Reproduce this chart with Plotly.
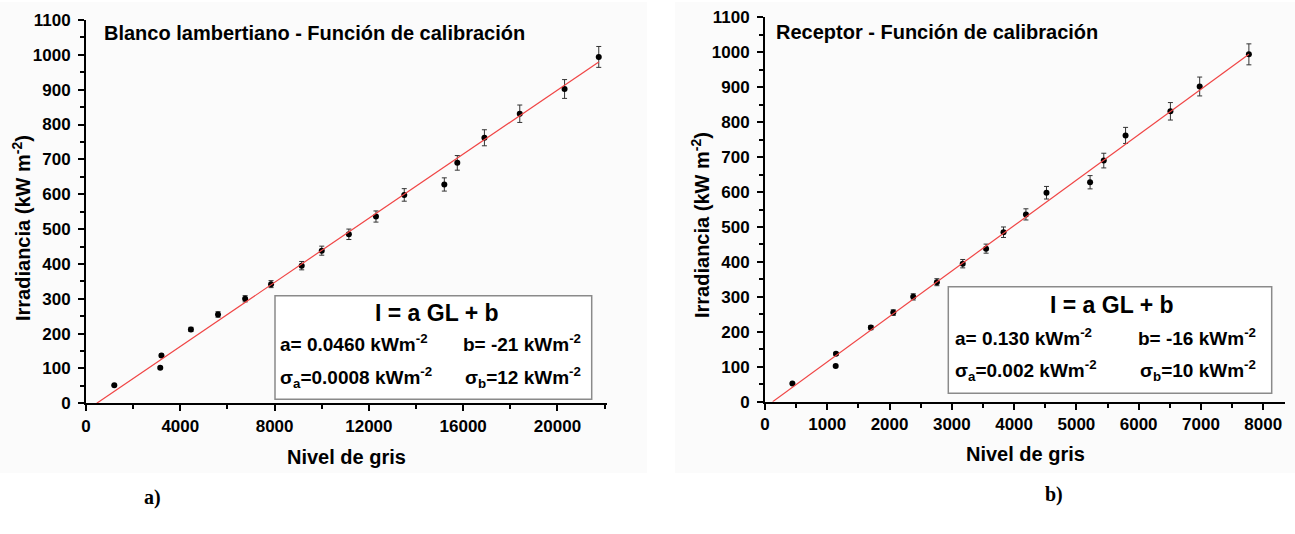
import plotly.graph_objects as go

W, H = 1295, 534

# ---------------- data ----------------
irradiance = [52, 102, 137, 212, 255, 300, 342, 395, 438, 485, 536, 598, 628, 690, 762, 831, 902, 994]
irr_err = [2, 3, 4, 6, 8, 9, 10, 12, 13, 15, 16, 18, 19, 21, 23, 25, 27, 30]

gl_blanco = [1200, 3150, 3200, 4450, 5600, 6750, 7850, 9150, 10000, 11150, 12300, 13500,
             15200, 15750, 16900, 18400, 20300, 21750]
gl_receptor = [440, 1135, 1140, 1700, 2060, 2380, 2760, 3175, 3550, 3830, 4190, 4520,
               5220, 5440, 5790, 6510, 6980, 7770]

a_blanco, b_blanco = 0.0460, -21
a_receptor, b_receptor = 0.130, -16

title_a = "Blanco lambertiano - Función de calibración"
title_b = "Receptor - Función de calibración"
eq_text = "I = a GL + b"
rows_a = ["a= 0.0460 kWm<sup>-2</sup>", "b= -21 kWm<sup>-2</sup>",
          "σ<sub>a</sub>=0.0008 kWm<sup>-2</sup>", "σ<sub>b</sub>=12 kWm<sup>-2</sup>"]
rows_b = ["a= 0.130 kWm<sup>-2</sup>", "b= -16 kWm<sup>-2</sup>",
          "σ<sub>a</sub>=0.002 kWm<sup>-2</sup>", "σ<sub>b</sub>=10 kWm<sup>-2</sup>"]
xlabel = "Nivel de gris"
ylabel = "Irradiancia (kW m<sup>-2</sup>)"

# ---------------- helpers (pixel -> paper) ----------------
def px(x):
    return x / W

def py(y):
    return 1 - y / H

FONT = "Liberation Sans, Arial, sans-serif"

fig = go.Figure()

def add_panel(gl, a, b, xa, ya):
    fig.add_trace(go.Scatter(
        x=gl, y=irradiance, mode="markers", xaxis=xa, yaxis=ya,
        marker=dict(color="black", size=6),
        error_y=dict(type="data", array=irr_err, visible=True, color="#333333",
                     thickness=1, width=2.5),
        showlegend=False))
    x0 = -b / a
    x1 = max(gl)
    fig.add_trace(go.Scatter(
        x=[x0, x1], y=[a * x0 + b, a * x1 + b], mode="lines", xaxis=xa, yaxis=ya,
        line=dict(color="#f04545", width=1.2), showlegend=False))

add_panel(gl_blanco, a_blanco, b_blanco, "x", "y")
add_panel(gl_receptor, a_receptor, b_receptor, "x2", "y2")

axis_common = dict(
    showline=True, linecolor="black", linewidth=2, mirror=False,
    ticks="outside", ticklen=6, tickwidth=2, tickcolor="black",
    showgrid=False, zeroline=False, tickformat="d", automargin=False,
    tickfont=dict(family=FONT, size=17, color="black", weight="bold"),
)

fig.update_layout(
    width=W, height=H, margin=dict(l=0, r=0, t=0, b=0, autoexpand=False),
    paper_bgcolor="white", plot_bgcolor="rgba(0,0,0,0)",
    xaxis=dict(domain=[px(86), px(607)], range=[0, 22100], dtick=4000, anchor="y",
               minor=dict(dtick=2000, ticks="outside", ticklen=4, tickwidth=1.5, tickcolor="black"),
               ticklabelstandoff=0, **axis_common),
    yaxis=dict(domain=[py(403.3), py(20)], range=[0, 1100], dtick=100, anchor="x",
               minor=dict(dtick=50, ticks="outside", ticklen=4, tickwidth=1.5, tickcolor="black"),
               ticklabelstandoff=4, **axis_common),
    xaxis2=dict(domain=[px(765), px(1285)], range=[0, 8350], dtick=1000, anchor="y2",
                minor=dict(dtick=500, ticks="outside", ticklen=4, tickwidth=1.5, tickcolor="black"),
                ticklabelstandoff=0, **axis_common),
    yaxis2=dict(domain=[py(401.7), py(17.3)], range=[0, 1100], dtick=100, anchor="x2",
                minor=dict(dtick=50, ticks="outside", ticklen=4, tickwidth=1.5, tickcolor="black"),
                ticklabelstandoff=4, **axis_common),
)

shapes = [
    dict(type="rect", xref="paper", yref="paper", x0=px(0), x1=px(647), y0=py(473), y1=py(2),
         fillcolor="#fbfbfb", line=dict(width=0), layer="below"),
    dict(type="rect", xref="paper", yref="paper", x0=px(675), x1=px(1295), y0=py(473), y1=py(2),
         fillcolor="#fbfbfb", line=dict(width=0), layer="below"),
    dict(type="rect", xref="paper", yref="paper", x0=px(275), x1=px(591.7), y0=py(399.3), y1=py(295.7),
         fillcolor="white", line=dict(color="#8a8a8a", width=1.5), layer="below"),
    dict(type="rect", xref="paper", yref="paper", x0=px(948.3), x1=px(1271.7), y0=py(393.3), y1=py(286.7),
         fillcolor="white", line=dict(color="#8a8a8a", width=1.5), layer="below"),
]
fig.update_layout(shapes=shapes)

ann = []

def text(x, y, s, size, xanchor="left", angle=0, family=FONT):
    ann.append(dict(x=px(x), y=py(y), xref="paper", yref="paper", text="<b>" + s + "</b>",
                    showarrow=False, xanchor=xanchor, yanchor="middle", textangle=angle,
                    font=dict(family=family, size=size, color="black")))

# titles
text(101.7, 33, title_a, 20)
text(774, 31.7, title_b, 20)
# axis titles
text(346.5, 457, xlabel, 20, xanchor="center")
text(1025, 454, xlabel, 20, xanchor="center")
text(22, 228, ylabel, 20, xanchor="center", angle=-90)
text(700, 225, ylabel, 20, xanchor="center", angle=-90)
# equation boxes
text(436.7, 313, eq_text, 23, xanchor="center")
text(278, 343, rows_a[0], 19)
text(461, 343, rows_a[1], 19)
text(278, 377, rows_a[2], 19)
text(463, 377, rows_a[3], 19)
text(1111.7, 305, eq_text, 23, xanchor="center")
text(952.7, 337, rows_b[0], 19)
text(1136, 337, rows_b[1], 19)
text(952.7, 370, rows_b[2], 19)
text(1138, 370, rows_b[3], 19)
# panel labels
text(152, 497, "a)", 20, xanchor="center", family="Liberation Serif, Times New Roman, serif")
text(1054, 494, "b)", 20, xanchor="center", family="Liberation Serif, Times New Roman, serif")

fig.update_layout(annotations=ann)

fig.write_html("out.html")
